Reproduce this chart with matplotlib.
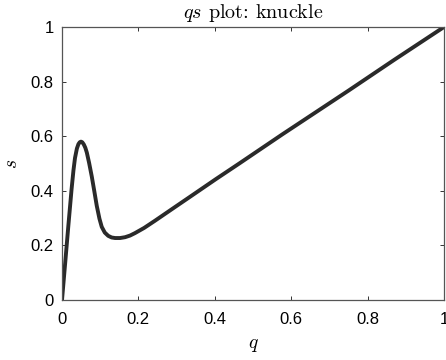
import matplotlib
matplotlib.use("Agg")
import matplotlib.pyplot as plt

plt.rcParams['mathtext.fontset'] = 'cm'
plt.rcParams['font.family'] = ['Liberation Sans', 'DejaVu Sans']

# Data
q = [0.0, 0.004, 0.008, 0.0165, 0.025, 0.03, 0.034, 0.039, 0.043, 0.0465, 0.0497,
     0.053, 0.057, 0.061, 0.065, 0.071, 0.078, 0.085, 0.091, 0.098, 0.104,
     0.112, 0.121, 0.13, 0.139, 0.152, 0.165, 0.178, 0.191, 0.215, 0.243,
     0.29, 0.333, 0.403, 0.464, 0.576, 0.75, 0.87, 1.0]
s = [0.0, 0.065, 0.13, 0.27, 0.405, 0.475, 0.52, 0.555, 0.571, 0.578, 0.58,
     0.578, 0.57, 0.558, 0.54, 0.502, 0.452, 0.395, 0.345, 0.298, 0.268,
     0.247, 0.235, 0.229, 0.227, 0.227, 0.23, 0.236, 0.245, 0.264, 0.29,
     0.335, 0.376, 0.443, 0.5, 0.606, 0.767, 0.88, 1.0]

xticks = [0, 0.2, 0.4, 0.6, 0.8, 1]
xticklabels = ['0', '0.2', '0.4', '0.6', '0.8', '1']
yticks = [0, 0.2, 0.4, 0.6, 0.8, 1]
yticklabels = ['0', '0.2', '0.4', '0.6', '0.8', '1']

fig = plt.figure(figsize=(4.46, 3.60), dpi=100)
ax = fig.add_axes([62/446, 1 - 300/360, (444 - 62)/446, (300 - 27)/360])

ax.plot(q, s, color='#2a2a2a', lw=2.8, solid_joinstyle='round', solid_capstyle='round')

ax.set_xlim(0, 1)
ax.set_ylim(0, 1)
ax.set_xticks(xticks)
ax.set_xticklabels(xticklabels)
ax.set_yticks(yticks)
ax.set_yticklabels(yticklabels)
ax.tick_params(direction='in', length=3, width=0.7, top=True, right=True,
               labelsize=12, colors='#333333', labelcolor='black')
ax.tick_params(axis='x', pad=9)
ax.tick_params(axis='y', pad=6)
for sp in ax.spines.values():
    sp.set_color('#555555')
    sp.set_linewidth(0.9)

ax.set_title(r"$qs$ plot: knuckle", fontsize=14.5, pad=6.5, family='cmr10')
ax.set_xlabel(r"$q$", fontsize=14, labelpad=7)
ax.set_ylabel(r"$s$", fontsize=14, labelpad=7, rotation=90)

fig.savefig("out.png", dpi=100)
